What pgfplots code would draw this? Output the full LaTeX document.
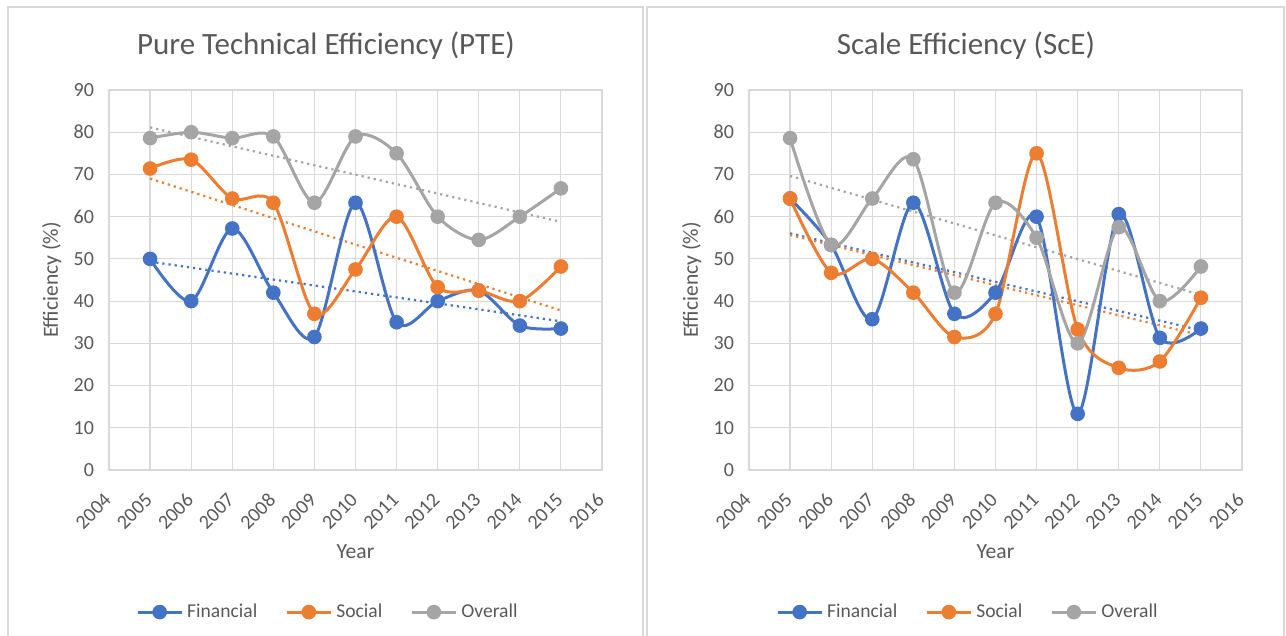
\documentclass[border=0pt]{standalone}
\usepackage{pgfplots}
\usepackage{pgfplotstable}
\pgfplotsset{compat=1.18}
\usepackage{fontspec}
\setmainfont{Carlito}
\definecolor{cblue}{HTML}{4472C4}
\definecolor{corange}{HTML}{ED7D31}
\definecolor{cgray}{HTML}{A5A5A5}
\definecolor{ctext}{HTML}{595959}
\definecolor{cgrid}{HTML}{D9D9D9}

\pgfplotstableread{
year fin soc ove
2005 50.0 71.4 78.6
2006 40.0 73.5 80.0
2007 57.2 64.3 78.6
2008 42.0 63.3 79.0
2009 31.5 37.0 63.3
2010 63.3 47.5 79.0
2011 35.0 60.0 75.0
2012 40.0 43.3 60.0
2013 42.5 42.5 54.5
2014 34.2 40.0 60.0
2015 33.5 48.2 66.7
}\pte

\pgfplotstableread{
year fin soc ove
2005 64.3 64.3 78.6
2006 53.3 46.7 53.3
2007 35.7 50.0 64.3
2008 63.3 42.0 73.6
2009 37.0 31.5 42.0
2010 42.0 37.0 63.3
2011 60.0 75.0 55.0
2012 13.3 33.3 30.0
2013 60.6 24.2 57.5
2014 31.3 25.7 40.0
2015 33.5 40.8 48.2
}\sce

\pgfplotsset{
  panel/.style={
    scale only axis,
    width=246.5pt, height=190pt,
    xmin=2004, xmax=2016, ymin=0, ymax=90,
    xtick={2004,...,2016}, ytick={0,10,...,90},
    /pgf/number format/assume math mode=true,
    /pgf/number format/1000 sep={},
    grid=major,
    grid style={cgrid, line width=0.6pt},
    axis line style={cgrid, line width=0.8pt},
    tick style={draw=none},
    ticklabel style={font=\fontsize{10}{12}\selectfont, text=ctext},
    xticklabel style={anchor=east, xshift=1.8pt, yshift=-11pt, rotate=45},
    yticklabel style={xshift=-4pt},
    xlabel={Year},
    ylabel={Efficiency (\%)},
    label style={font=\fontsize{10.8}{12}\selectfont, text=ctext},
    xlabel style={at={(axis description cs:0.5,-0.215)}, anchor=center},
    ylabel style={at={(axis description cs:-0.116,0.5)}, anchor=center, rotate=0},
    title style={font=\fontsize{15.5}{18}\selectfont, text=ctext, at={(axis description cs:0.44,1.084)}, anchor=center, yshift=0pt},
    legend style={draw=none, fill=none, font=\fontsize{9.8}{11}\selectfont, text=ctext,
      at={(axis description cs:0.446,-0.374)}, anchor=center,
      /tikz/every even column/.append style={column sep=12pt}},
    legend columns=3,
    legend image code/.code={
      \draw[#1, mark=none] (0pt,0pt) -- (22pt,0pt);
      \draw[#1, only marks] plot coordinates {(11pt,0pt)};
    },
    ser/.style={smooth, tension=0.5, line width=1.5pt, mark=*, mark size=2.9pt, mark options={solid}},
    trend/.style={dotted, line width=1.1pt, forget plot, mark=none},
  }
}

\begin{document}
\begin{tikzpicture}
\useasboundingbox (0,0) rectangle (643pt,318pt);
\draw[cgrid, line width=1pt] (3.8pt,-2pt) -- (3.8pt,314.5pt) -- (321.3pt,314.5pt) -- (321.3pt,-2pt);
\draw[cgrid, line width=1pt] (323.7pt,-2pt) -- (323.7pt,314.5pt) -- (641.8pt,314.5pt) -- (641.8pt,-2pt);

\begin{axis}[panel, at={(54.5pt,83pt)}, anchor=south west, title={Pure Technical Efficiency (PTE)}]
\addplot[trend, cblue] table[x=year, y={create col/linear regression={y=fin}}] {\pte};
\addplot[trend, corange] table[x=year, y={create col/linear regression={y=soc}}] {\pte};
\addplot[trend, cgray] table[x=year, y={create col/linear regression={y=ove}}] {\pte};
\addplot[ser, cblue] table[x=year, y=fin] {\pte};
\addplot[ser, corange] table[x=year, y=soc] {\pte};
\addplot[ser, cgray] table[x=year, y=ove] {\pte};
\legend{Financial,Social,Overall}
\end{axis}

\begin{axis}[panel, at={(374.5pt,83pt)}, anchor=south west, title={Scale Efficiency (ScE)}]
\addplot[trend, cblue] table[x=year, y={create col/linear regression={y=fin}}] {\sce};
\addplot[trend, corange] table[x=year, y={create col/linear regression={y=soc}}] {\sce};
\addplot[trend, cgray] table[x=year, y={create col/linear regression={y=ove}}] {\sce};
\addplot[ser, cblue] table[x=year, y=fin] {\sce};
\addplot[ser, corange] table[x=year, y=soc] {\sce};
\addplot[ser, cgray] table[x=year, y=ove] {\sce};
\legend{Financial,Social,Overall}
\end{axis}
\end{tikzpicture}
\end{document}
